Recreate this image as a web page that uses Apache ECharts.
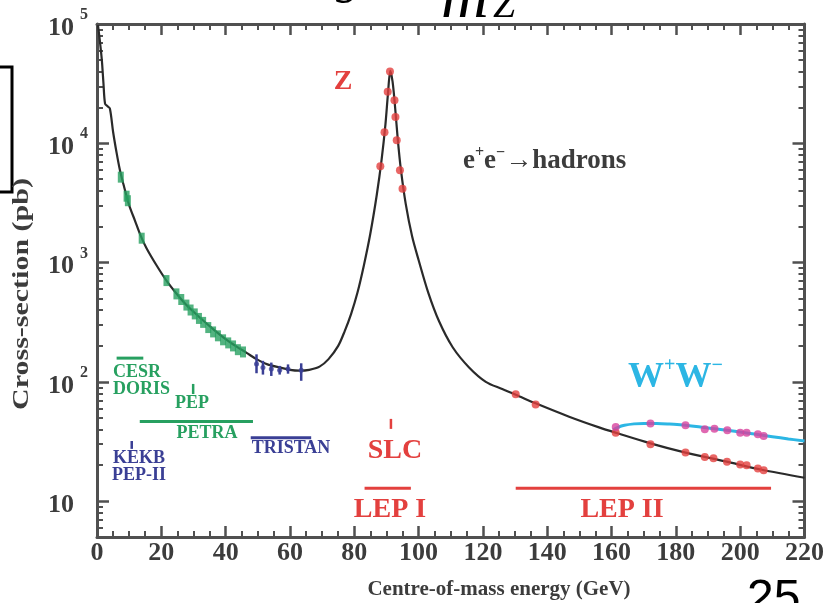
<!DOCTYPE html>
<html><head><meta charset="utf-8">
<script src="https://cdn.jsdelivr.net/npm/echarts@6/dist/echarts.min.js"></script>
<style>html,body{margin:0;padding:0;background:#fff;overflow:hidden}#c{width:827px;height:603px}</style>
</head><body><div id="c"></div>
<script>
// ---------- data ----------
const curveX = [0.3, 0.9, 1.5, 2.0, 2.5, 3.2, 4.0, 5.0, 6.1, 7.1, 8.2, 9.2, 10.2, 11.8, 13.5, 15.4, 18.5, 21.6, 24.7, 27.8, 31.5, 36.1, 40, 43.3, 46.5, 49.6, 53, 56.8, 60, 63, 66, 69.2, 72, 75, 77, 79, 81, 83, 85, 87, 88.5, 89.7, 90.5, 91.2, 91.9, 92.6, 93.5, 94.5, 96, 98, 100, 103, 106.4, 110.6, 115.7, 120.9, 126, 130.2, 136.4, 146.8, 156.1, 161.2, 172.1, 183, 195.4, 206.7, 220];
const curveY = [98000, 72000, 50000, 32000, 21500, 20500, 19600, 12500, 8300, 6000, 4550, 3600, 2920, 2250, 1700, 1320, 950, 706, 550, 440, 355, 277, 228, 198, 175, 155, 140, 132, 126, 124, 126, 134, 155, 200, 265, 370, 560, 950, 1750, 3700, 7300, 14500, 26500, 40500, 33000, 21500, 11000, 6000, 3100, 1650, 1050, 560, 320, 195, 132, 100, 87, 78, 66, 51, 41.5, 37.5, 30.5, 25.5, 21.5, 18.3, 15.7];

const wwLineX = [160.5, 162, 164, 167, 170, 174, 178, 183, 190, 196, 200, 205, 210, 215, 220];
const wwLineY = [39.5, 41.5, 43.2, 44.4, 44.8, 44.7, 44.2, 43.3, 41, 39.3, 37.9, 36.3, 34.7, 33.2, 31.9];

const lowEnergyX = [7.4, 9.2, 9.6, 13.9, 21.6, 24.7, 26.2, 27.8, 29.1, 30.4, 31.7, 33, 34.6, 36.1, 37.6, 39.2, 40.8, 42.3, 43.8, 45.4];
const lowEnergyY = [5200, 3600, 3300, 1600, 706, 546, 490, 440, 400, 371, 340, 315, 285, 262, 243, 225, 212, 200, 186, 178];

const midEnergyX = [49.6, 51.6, 54.2, 56.8, 59.4, 63.5];
const midEnergyY = [141, 132, 128, 125, 128, 125];
const midEnergyLow = [118, 115, 112, 115, 117, 102];
const midEnergyHigh = [170, 150, 145, 136, 140, 143];

const zPeakX = [91.1, 90.4, 92.5, 92.8, 89.4, 93.2, 88.1, 94.2, 95.0];
const zPeakY = [40000, 27000, 23000, 16600, 12400, 10600, 6410, 5930, 4160];

const lep2X = [130.2, 136.4, 161.3, 172.1, 183, 189, 191.7, 195.9, 200, 202, 205.5, 207.3];
const lep2Y = [78.8, 64.5, 37.5, 30, 25.5, 23.4, 22.9, 21.4, 20.3, 20, 18.8, 18.1];

const wwX = [161.3, 172.1, 183, 189, 192, 196, 200, 202, 205.5, 207.3];
const wwY = [41.9, 44.7, 43.3, 40, 40.5, 39.3, 37.5, 37.5, 36.4, 35.2];

const facilityNames = ['CESR', 'PETRA', 'TRISTAN', 'LEP I', 'LEP II'];
const facilityFrom = [6.1, 13.3, 47.8, 83.2, 130.2];
const facilityTo = [14.4, 48.5, 66.6, 97.6, 209.6];
const facilityY = [158, 46.5, 34, 12.8, 12.8];

const markerNames = ['KEKB', 'PEP', 'SLC'];
const markerX = [10.8, 29.9, 91.4];
const markerLow = [27.4, 79, 40.3];
const markerHigh = [31.9, 96, 48.9];

const xTickValues = [0, 20, 40, 60, 80, 100, 120, 140, 160, 180, 200, 220];
const yTickValues = [10, 100, 1000, 10000, 100000];
const yTickBase = ['10', '10', '10', '10', '10'];
const yTickExp = ['', '2', '3', '4', '5'];
const yMinorValues = [6, 7, 8, 9, 20, 30, 40, 50, 60, 70, 80, 90, 200, 300, 400, 500, 600, 700, 800, 900, 2000, 3000, 4000, 5000, 6000, 7000, 8000, 9000, 20000, 30000, 40000, 50000, 60000, 70000, 80000, 90000];

// ---------- styles ----------
const GREEN = '#27a060', NAVY = '#3a3f95', RED = '#e3403e', CYAN = '#2cb6e4', MAGENTA = '#d8429e';
const AX = '#505050', TXT = '#3c3c3c';
const SERIF = '"Liberation Serif", "DejaVu Serif", serif';
const facilityColor = {'CESR': GREEN, 'PETRA': GREEN, 'TRISTAN': NAVY, 'LEP I': RED, 'LEP II': RED};
const markerColor = {'KEKB': NAVY, 'PEP': GREEN, 'SLC': RED};

const chart = echarts.init(document.getElementById('c'), null, {renderer: 'canvas'});

function xAxisDef(pos, labels) {
  return {
    type: 'value', position: pos, min: 0, max: 220, interval: 20,
    axisLine: {show: true, lineStyle: {color: AX, width: 3}},
    axisTick: {show: true, inside: true, length: 11, lineStyle: {color: AX, width: 2.5}},
    minorTick: {show: true, splitNumber: 4, length: 6, lineStyle: {color: AX, width: 2}},
    splitLine: {show: false}, minorSplitLine: {show: false},
    axisLabel: labels ? {
      show: true, margin: 3, color: TXT, fontFamily: SERIF, fontWeight: 'bold', fontSize: 26,
      customValues: xTickValues, formatter: v => String(v)
    } : {show: false}
  };
}
function yAxisDef(pos, major, labels) {
  return {
    type: 'log', logBase: 10, position: pos, min: 5, max: 100000,
    axisLine: {show: major, lineStyle: {color: AX, width: 3}},
    axisTick: {show: true, inside: true, length: major ? 12 : 6,
      customValues: major ? yTickValues : yMinorValues,
      lineStyle: {color: AX, width: major ? 2.5 : 2}},
    splitLine: {show: false},
    axisLabel: labels ? {
      show: true, margin: 9, customValues: yTickValues,
      formatter: v => {
        const i = yTickValues.findIndex(t => Math.abs(t - v) / t < 1e-6);
        if (i < 0) return '';
        return '{b|' + yTickBase[i] + '}{s|' + (yTickExp[i] || '\u2002') + '}';
      },
      rich: {
        b: {fontFamily: SERIF, fontWeight: 'bold', fontSize: 26, color: TXT, lineHeight: 34, verticalAlign: 'bottom'},
        s: {fontFamily: SERIF, fontWeight: 'bold', fontSize: 16, color: TXT, width: 14, align: 'right', verticalAlign: 'top', lineHeight: 16}
      }
    } : {show: false}
  };
}

function hLineItem(params, api) {
  const a = api.coord([api.value(0), api.value(2)]);
  const b = api.coord([api.value(1), api.value(2)]);
  return {type: 'line', shape: {x1: a[0], y1: a[1], x2: b[0], y2: b[1]},
    style: {stroke: api.visual('color'), lineWidth: 3}};
}
function vLineItem(params, api) {
  const a = api.coord([api.value(0), api.value(1)]);
  const b = api.coord([api.value(0), api.value(2)]);
  return {type: 'line', shape: {x1: a[0], y1: a[1], x2: b[0], y2: b[1]},
    style: {stroke: api.visual('color'), lineWidth: 2.5}};
}

function txt(text, x, y, color, size, align, extra) {
  return Object.assign({
    type: 'text', x: x, y: y, z: 50,
    style: {text: text, fill: color, font: 'bold ' + size + 'px ' + SERIF,
      textAlign: align || 'center', textVerticalAlign: 'middle'}
  }, extra || {});
}

const option = {
  animation: false,
  backgroundColor: '#fff',
  grid: {left: 97, right: 21, top: 24, bottom: 66, containLabel: false},
  xAxis: [xAxisDef('bottom', true), xAxisDef('top', false)],
  yAxis: [yAxisDef('left', true, true), yAxisDef('left', false, false),
          yAxisDef('right', true, false), yAxisDef('right', false, false)],
  series: [
    {type: 'custom', name: 'facilities', renderItem: hLineItem, z: 3,
      data: facilityNames.map((n, i) => ({value: [facilityFrom[i], facilityTo[i], facilityY[i]], itemStyle: {color: facilityColor[n]}}))},
    {type: 'custom', name: 'markers', renderItem: vLineItem, z: 3,
      data: markerNames.map((n, i) => ({value: [markerX[i], markerLow[i], markerHigh[i]], itemStyle: {color: markerColor[n]}}))},
    {type: 'line', name: 'hadrons', data: curveX.map((x, i) => [x, curveY[i]]), showSymbol: false, symbol: 'none',
      smooth: 0.3, lineStyle: {color: '#2a2a2a', width: 2.2}, z: 4},
    {type: 'line', name: 'WW curve', data: wwLineX.map((x, i) => [x, wwLineY[i]]), showSymbol: false, symbol: 'none',
      smooth: 0.4, lineStyle: {color: CYAN, width: 3}, z: 4},
    {type: 'custom', name: 'midErr', renderItem: vLineItem, z: 5, itemStyle: {color: NAVY},
      data: midEnergyX.map((x, i) => [x, midEnergyLow[i], midEnergyHigh[i]])},
    {type: 'scatter', name: 'mid', data: midEnergyX.map((x, i) => [x, midEnergyY[i]]), symbol: 'circle', symbolSize: 5,
      itemStyle: {color: NAVY}, z: 6},
    {type: 'scatter', name: 'low', data: lowEnergyX.map((x, i) => [x, lowEnergyY[i]]), symbol: 'rect', symbolSize: [6, 11],
      itemStyle: {color: GREEN}, z: 6},
    {type: 'scatter', name: 'Z', data: zPeakX.map((x, i) => [x, zPeakY[i]]), symbol: 'circle', symbolSize: 8,
      itemStyle: {color: RED}, z: 6},
    {type: 'scatter', name: 'LEP2', data: lep2X.map((x, i) => [x, lep2Y[i]]), symbol: 'circle', symbolSize: 8,
      itemStyle: {color: RED}, z: 6},
    {type: 'scatter', name: 'WW', data: wwX.map((x, i) => [x, wwY[i]]), symbol: 'circle', symbolSize: 8,
      itemStyle: {color: MAGENTA}, z: 6}
  ],
  graphic: [
    {type: 'polyline', shape: {points: [[0, 67], [12, 67], [12, 192], [0, 192]]}, style: {stroke: '#000', lineWidth: 3, fill: null}},
    {type: 'text', x: 336, y: -20, style: {text: 'g', fill: '#000', font: 'italic 48px ' + SERIF, textAlign: 'left', textVerticalAlign: 'middle'}},
    {type: 'text', x: 441, y: 0, style: {text: 'm', fill: '#000', font: 'italic 66px ' + SERIF, textAlign: 'left', textVerticalAlign: 'middle'}},
    {type: 'text', x: 493, y: 6, style: {text: 'Z', fill: '#000', font: 'italic 40px ' + SERIF, textAlign: 'left', textVerticalAlign: 'middle'}},
    {type: 'text', x: 747, y: 600, style: {text: '25', fill: '#000', font: '48px "Liberation Sans", Arial, sans-serif', textAlign: 'left', textVerticalAlign: 'middle'}},
    txt('Z', 343, 82, RED, 28),
    {type: 'text', x: 463, y: 160, z: 50, style: {
      text: '{a|e}{s|+}{a|e}{s|\u2212}{a|\u2192hadrons}', textAlign: 'left', textVerticalAlign: 'middle',
      rich: {a: {fill: TXT, font: 'bold 27px ' + SERIF, lineHeight: 30, verticalAlign: 'bottom'},
             s: {fill: TXT, font: 'bold 16px ' + SERIF, lineHeight: 16, verticalAlign: 'top'}}}},
    {type: 'text', x: 628, y: 376, z: 50, style: {
      text: '{a|W}{s|+}{a|W}{s|\u2212}', textAlign: 'left', textVerticalAlign: 'middle',
      rich: {a: {fill: CYAN, font: 'bold 36px ' + SERIF, lineHeight: 40, verticalAlign: 'bottom'},
             s: {fill: CYAN, font: 'bold 20px ' + SERIF, lineHeight: 20, verticalAlign: 'top'}}}},
    txt('CESR', 113, 372, GREEN, 18, 'left'),
    txt('DORIS', 113, 389, GREEN, 18, 'left'),
    txt('PEP', 192, 403, GREEN, 18),
    txt('PETRA', 207, 433, GREEN, 18),
    txt('TRISTAN', 291, 448, NAVY, 18),
    txt('KEKB', 139, 458, NAVY, 18),
    txt('PEP-II', 139, 475, NAVY, 18),
    txt('SLC', 395, 451, RED, 28),
    txt('LEP I', 390, 510, RED, 28),
    txt('LEP II', 622, 510, RED, 28),
    txt('Cross-section (pb)', 22, 294, TXT, 24, 'center', {rotation: Math.PI / 2, scaleX: 1.25}),
    txt('Centre-of-mass energy (GeV)', 499, 590, TXT, 21, 'center', {scaleX: 1.0})
  ]
};
chart.setOption(option);
</script></body></html>
